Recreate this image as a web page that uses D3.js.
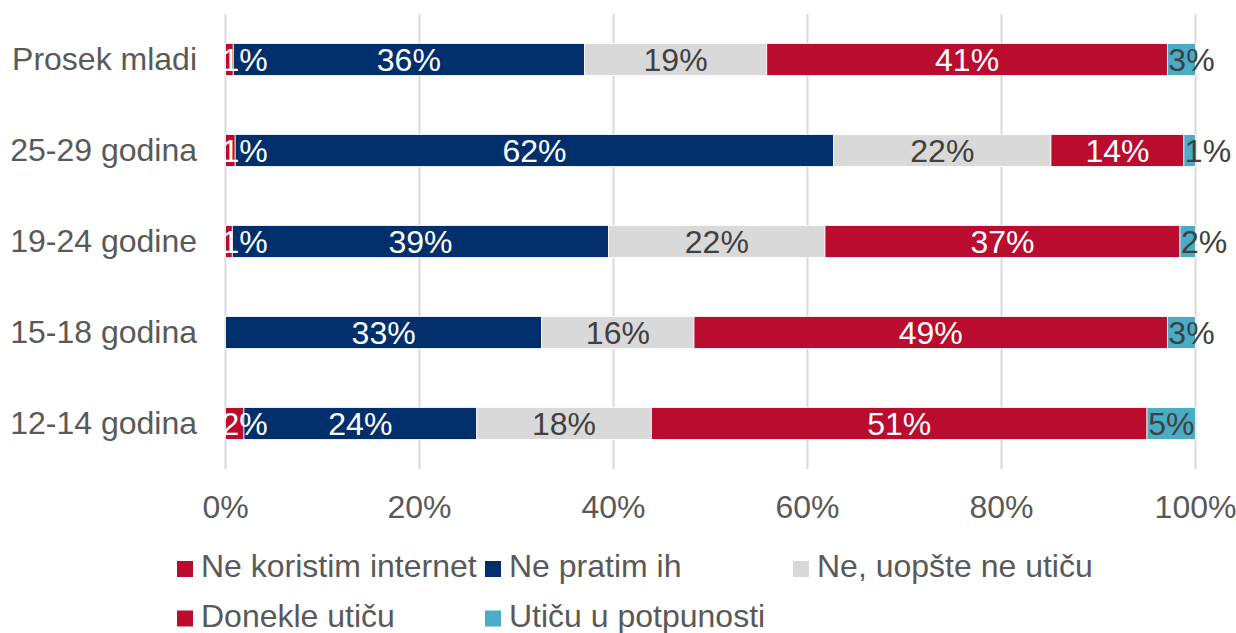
<!DOCTYPE html>
<html><head><meta charset="utf-8">
<script src="https://cdn.jsdelivr.net/npm/d3@7/dist/d3.min.js"></script>
<style>body{margin:0;background:#fff}svg{display:block}text{font-family:"Liberation Sans",Arial,sans-serif}</style>
</head><body><svg id="c" width="1236" height="633"></svg>
<script>
const categories = ["Prosek mladi", "25-29 godina", "19-24 godine", "15-18 godina", "12-14 godina"];
const seriesNames = ["Ne koristim internet", "Ne pratim ih", "Ne, uopšte ne utiču", "Donekle utiču", "Utiču u potpunosti"];
const seriesColors = ["#BA0C2F", "#002F6C", "#D9D9D9", "#BA0C2F", "#4BACC6"];
const labelColors = ["#ffffff", "#ffffff", "#404040", "#ffffff", "#404040"];
const neKoristim = [0.8, 1.0, 0.7, 0, 1.9];
const nePratim = [36.2, 61.7, 38.8, 32.6, 24.0];
const neUticu = [18.8, 22.4, 22.3, 15.7, 18.0];
const donekle = [41.3, 13.7, 36.6, 48.8, 51.1];
const potpuno = [2.9, 1.2, 1.6, 2.9, 5.0];
const tickValues = [0, 20, 40, 60, 80, 100];

const series = [neKoristim, nePratim, neUticu, donekle, potpuno];
const rows = categories.map((c, i) => {
  const r = {cat: c};
  seriesNames.forEach((s, j) => r[s] = series[j][i]);
  return r;
});
const stacked = d3.stack().keys(seriesNames)(rows);

const svg = d3.select("#c");
const x = d3.scaleLinear().domain([0, 100]).range([225.5, 1195.5]);
const y = d3.scaleBand().domain(categories).range([14, 469]).paddingInner(0.65).paddingOuter(0.325);
const FONT = 32;

// gridlines
svg.append("g").selectAll("line").data(tickValues).join("line")
  .attr("x1", d => x(d)).attr("x2", d => x(d)).attr("y1", 14).attr("y2", 469)
  .attr("stroke", "#d9d9d9").attr("stroke-width", 2);

// bars
const g = svg.append("g");
stacked.forEach((s, j) => {
  g.append("g").selectAll("rect").data(s).join("rect")
    .attr("x", d => x(d[0])).attr("width", d => x(d[1]) - x(d[0]))
    .attr("y", d => y(d.data.cat)).attr("height", y.bandwidth())
    .attr("fill", seriesColors[j]).attr("stroke", "#fff").attr("stroke-width", 0.8);
});

// data labels
const fmt = v => d3.format(".0f")(v) + "%";
stacked.forEach((s, j) => {
  s.forEach(d => {
    const v = d[1] - d[0];
    if (v <= 0) return;
    const w = x(d[1]) - x(d[0]);
    const lbl = fmt(v);
    const t = svg.append("text").text(lbl)
      .attr("y", y(d.data.cat) + y.bandwidth() / 2).attr("dy", "0.35em")
      .attr("font-size", FONT).attr("fill", labelColors[j]);
    const tw = t.node().getComputedTextLength();
    if (tw > w) {
      t.attr("text-anchor", "start").attr("x", x(d[0]) + (j === 0 ? -4 : 1));
    } else {
      t.attr("text-anchor", "middle").attr("x", (x(d[0]) + x(d[1])) / 2);
    }
  });
});

// y axis labels
svg.append("g").selectAll("text").data(categories).join("text")
  .attr("x", 197).attr("y", d => y(d) + y.bandwidth() / 2).attr("dy", "0.32em")
  .attr("text-anchor", "end").attr("font-size", FONT).attr("fill", "#595959").text(d => d);

// x axis labels
svg.append("g").selectAll("text").data(tickValues).join("text")
  .attr("x", d => x(d)).attr("y", 518).attr("text-anchor", "middle")
  .attr("font-size", FONT).attr("fill", "#595959").text(d => d + "%");

// legend
const legPos = [[177, 577], [485, 577], [793, 577], [177, 626.5], [485, 626.5]];
const lg = svg.append("g");
seriesNames.forEach((s, j) => {
  const [lx, ly] = legPos[j];
  lg.append("rect").attr("x", lx).attr("y", ly - 16).attr("width", 16).attr("height", 16).attr("fill", seriesColors[j]);
  lg.append("text").attr("x", lx + 24).attr("y", ly).attr("font-size", FONT).attr("fill", "#595959").text(s);
});
</script></body></html>
